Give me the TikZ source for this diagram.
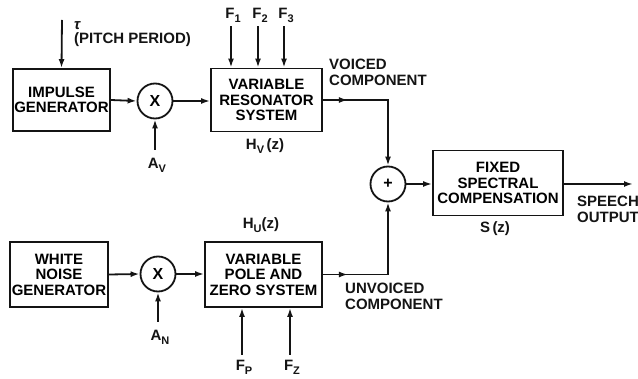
\documentclass[tikz,border=0pt]{standalone}
\usepackage{fontspec}
\setmainfont{Liberation Sans}
\usetikzlibrary{arrows.meta,positioning,calc,decorations.markings}
\definecolor{ink}{HTML}{141414}
\definecolor{paper}{HTML}{FFFFFF}

\newcommand{\lowsub}[1]{\raisebox{-0.5ex}{\fontsize{11}{11}\selectfont #1}}

\tikzset{
  block/.style={draw=ink, line width=1.8pt, align=center, inner sep=0pt,
    font=\fontsize{15}{15.5}\selectfont\bfseries},
  mixer/.style={circle, draw=ink, line width=1.8pt, minimum size=35pt, inner sep=0pt,
    font=\fontsize{16}{16}\selectfont\bfseries},
  lbl/.style={inner sep=0pt, text=ink, align=left,
    font=\fontsize{15}{16}\selectfont\bfseries},
  sig/.style={draw=ink, line width=1.8pt, -{Latex[length=9pt,width=6pt]}},
  midarrow/.style={postaction={decorate},
    decoration={markings, mark=at position #1 with {\arrow{Latex[length=9pt,width=6pt]}}}}
}

\begin{document}
\begin{tikzpicture}[x=1pt,y=-1pt]
  \useasboundingbox[fill=paper] (0,0) rectangle (638,379);

  % voiced branch
  \node[block, minimum width=97pt, minimum height=62pt] (imp) at (61.5,100) {IMPULSE\\GENERATOR};
  \node[mixer] (mulv) at (155,101) {X};
  \node[block, minimum width=111pt, minimum height=63pt] (vrs) at (266.5,100) {VARIABLE\\RESONATOR\\SYSTEM};

  % unvoiced branch
  \node[block, minimum width=98pt, minimum height=65pt] (noise) at (59,274.5) {WHITE\\NOISE\\GENERATOR};
  \node[mixer] (mulu) at (158,274) {X};
  \node[block, minimum width=117pt, minimum height=65pt] (vpz) at (263.5,274.5) {VARIABLE\\POLE AND\\ZERO SYSTEM};

  % output stage
  \node[mixer] (sum) at (388,184) {+};
  \node[block, minimum width=130pt, minimum height=65pt] (fsc) at (498,183) {FIXED\\SPECTRAL\\COMPENSATION};
  \coordinate (out) at (633,184);

  % control labels
  \coordinate (tautop) at (62,20);
  \node[lbl, anchor=west] (tau) at (74,26) {\itshape τ};
  \node[lbl, anchor=west] (pitch) at (74,40) {(PITCH PERIOD)};
  \node[lbl] (f1) at (233,15) {F\lowsub{1}};
  \node[lbl] (f2) at (260,15) {F\lowsub{2}};
  \node[lbl] (f3) at (286,15) {F\lowsub{3}};
  \node[lbl] (av) at (157,165) {A\lowsub{V}};
  \node[lbl] (hv) at (265,146) {H\lowsub{V}\,(z)};
  \node[lbl] (an) at (160,337) {A\lowsub{N}};
  \node[lbl] (hu) at (261,225) {H\lowsub{U}(z)};
  \node[lbl] (fp) at (244,367) {F\lowsub{P}};
  \node[lbl] (fz) at (292,367) {F\lowsub{Z}};
  \node[lbl] (sz) at (495,229) {S\,(z)};
  \node[lbl, anchor=north west] (voiced) at (329,59) {VOICED\\COMPONENT};
  \node[lbl, anchor=north west] (unvoiced) at (345,283) {UNVOICED\\COMPONENT};
  \node[lbl, anchor=north west] (speech) at (577,196) {SPEECH\\OUTPUT};

  % signal flow
  \draw[sig] (tautop) -- (imp.north);
  \draw[sig] (imp.east) -- (mulv.west);
  \draw[sig] (mulv.east) -- (mulv.east -| vrs.west);
  \draw[sig] (av.north) ++(-2,-8) -- (mulv.south);
  \foreach \f in {f1,f2,f3}
    \draw[sig] ([xshift=-2pt,yshift=-4pt]\f.south) -- ([xshift=-2pt]\f.south |- vrs.north);
  \draw[sig, midarrow=25pt] (vrs.east) -| (sum.north);

  \draw[sig] (noise.east) -- (mulu.west);
  \draw[sig] (mulu.east) -- (mulu.east -| vpz.west);
  \draw[sig] (an.north) ++(-2,-8) -- (mulu.south);
  \foreach \f in {fp,fz}
    \draw[sig] ([xshift=-2pt,yshift=5pt]\f.north) -- ([xshift=-2pt]\f.north |- vpz.south);
  \draw[sig, midarrow=25pt] (vpz.east) -| (sum.south);

  \draw[sig] (sum.east) -- (sum.east -| fsc.west);
  \draw[sig] (fsc.east |- out) -- (out);
\end{tikzpicture}
\end{document}
